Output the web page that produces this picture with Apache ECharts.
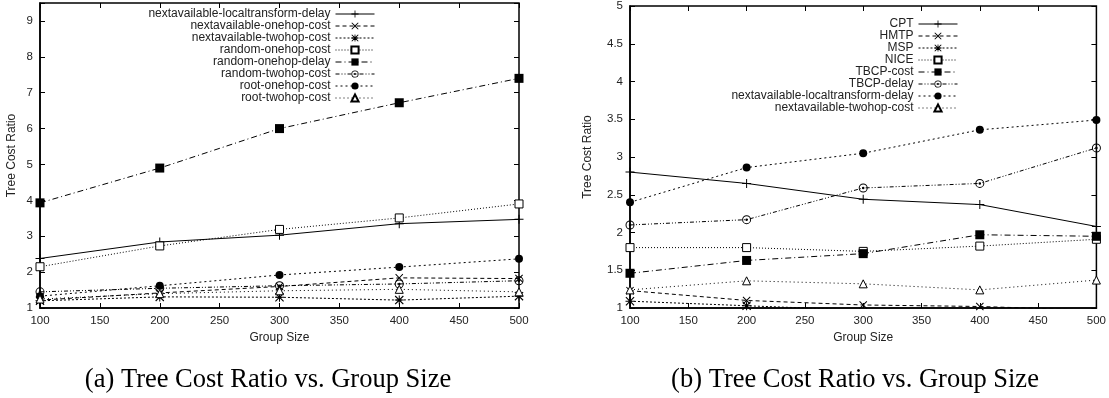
<!DOCTYPE html>
<html><head><meta charset="utf-8">
<script src="https://cdn.jsdelivr.net/npm/echarts@6/dist/echarts.min.js"></script>
<style>html,body{margin:0;padding:0;background:#fff}#c{width:1109px;height:398px}</style>
</head><body><div id="c"></div>
<script>
// ---------- data ----------
const groupSizes = [100, 200, 300, 400, 500];

const namesA = ['nextavailable-localtransform-delay','nextavailable-onehop-cost','nextavailable-twohop-cost','random-onehop-cost','random-onehop-delay','random-twohop-cost','root-onehop-cost','root-twohop-cost'];
const a_nextLocalDelay = [2.38, 2.84, 3.03, 3.35, 3.47];
const a_nextOnehopCost = [1.22, 1.42, 1.60, 1.84, 1.82];
const a_nextTwohopCost = [1.20, 1.31, 1.30, 1.22, 1.33];
const a_randOnehopCost = [2.15, 2.73, 3.19, 3.51, 3.90];
const a_randOnehopDelay = [3.93, 4.90, 6.00, 6.72, 7.40];
const a_randTwohopCost = [1.45, 1.55, 1.62, 1.67, 1.76];
const a_rootOnehopCost = [1.33, 1.62, 1.92, 2.14, 2.37];
const a_rootTwohopCost = [1.25, 1.40, 1.48, 1.52, 1.45];
const valuesA = [a_nextLocalDelay, a_nextOnehopCost, a_nextTwohopCost, a_randOnehopCost, a_randOnehopDelay, a_randTwohopCost, a_rootOnehopCost, a_rootTwohopCost];

const namesB = ['CPT','HMTP','MSP','NICE','TBCP-cost','TBCP-delay','nextavailable-localtransform-delay','nextavailable-twohop-cost'];
const b_cpt = [2.80, 2.65, 2.44, 2.37, 2.08];
const b_hmtp = [1.23, 1.10, 1.04, 1.02, 0.97];
const b_msp = [1.09, 1.03, 0.97, 0.95, 0.93];
const b_nice = [1.80, 1.80, 1.75, 1.82, 1.91];
const b_tbcpCost = [1.46, 1.63, 1.72, 1.97, 1.95];
const b_tbcpDelay = [2.10, 2.17, 2.59, 2.65, 3.12];
const b_nextLocalDelay = [2.40, 2.86, 3.05, 3.36, 3.49];
const b_nextTwohopCost = [1.24, 1.36, 1.32, 1.24, 1.37];
const valuesB = [b_cpt, b_hmtp, b_msp, b_nice, b_tbcpCost, b_tbcpDelay, b_nextLocalDelay, b_nextTwohopCost];

const captionA = '(a) Tree Cost Ratio vs. Group Size';
const captionB = '(b) Tree Cost Ratio vs. Group Size';

// ---------- styles (gnuplot monochrome line types) ----------
const PLUS = 'path://M4,0 L5,0 L5,4 L9,4 L9,5 L5,5 L5,9 L4,9 L4,5 L0,5 L0,4 L4,4 Z';
const CROSS = 'path://M0,0.8 L0.8,0 L4.5,3.7 L8.2,0 L9,0.8 L5.3,4.5 L9,8.2 L8.2,9 L4.5,5.3 L0.8,9 L0,8.2 L3.7,4.5 Z';
const STAR = 'path://M0,0.8 L0.8,0 L4.5,3.7 L8.2,0 L9,0.8 L5.3,4.5 L9,8.2 L8.2,9 L4.5,5.3 L0.8,9 L0,8.2 L3.7,4.5 Z M4,0 L5,0 L5,9 L4,9 Z M0,4 L9,4 L9,5 L0,5 Z';
const RINGDOT = 'path://M5,0 A5,5 0 1,1 4.99,0 Z M5,1.1 A3.9,3.9 0 1,0 5.01,1.1 Z M5,3.6 A1.4,1.4 0 1,1 4.99,3.6 Z';
const styles = [
  {symbol: PLUS, size: 9, fill: '#000', border: 0, dash: 'solid'},
  {symbol: CROSS, size: 8, fill: '#000', border: 0, dash: [4, 3]},
  {symbol: STAR, size: 9, fill: '#000', border: 0, dash: [2, 2]},
  {symbol: 'rect', size: 8, fill: '#fff', border: 1, dash: [1, 2]},
  {symbol: 'rect', size: 9, fill: '#000', border: 0, dash: [6, 3, 1, 3]},
  {symbol: RINGDOT, size: 9, fill: '#000', border: 0, dash: [4, 2, 1, 2, 1, 2]},
  {symbol: 'circle', size: 8, fill: '#000', border: 0, dash: [2, 3]},
  {symbol: 'triangle', size: 8, fill: '#fff', border: 1, dash: [1, 3]}
];

function mkSeries(names, values, gi, prefix) {
  return names.map((n, i) => {
    const s = styles[i];
    return {
      name: prefix + n, type: 'line', xAxisIndex: gi * 2, yAxisIndex: gi * 2,
      data: groupSizes.map((g, k) => [g, values[i][k]]),
      symbol: s.symbol, symbolSize: s.size, showAllSymbol: true,
      itemStyle: {color: s.fill, borderColor: '#000', borderWidth: s.border},
      lineStyle: {color: '#000', width: 1, type: s.dash},
      emphasis: {disabled: true}, animation: false, clip: true
    };
  });
}

const txt = '#222';
const font = 'Liberation Sans, Arial, sans-serif';
function xAxes(gi) {
  return [
    {type: 'value', gridIndex: gi, min: 100, max: 500, interval: 50, position: 'bottom',
     name: 'Group Size', nameLocation: 'middle', nameGap: 24,
     nameTextStyle: {fontSize: 12, color: txt, fontFamily: font},
     axisLine: {show: true, lineStyle: {color: '#000', width: 1.5}},
     axisTick: {show: true, inside: true, length: 5, lineStyle: {color: '#000'}},
     axisLabel: {show: true, margin: 7, fontSize: 11.5, color: txt, fontFamily: font},
     splitLine: {show: false}},
    {type: 'value', gridIndex: gi, min: 100, max: 500, interval: 50, position: 'top',
     axisLine: {show: false},
     axisTick: {show: true, inside: true, length: 5, lineStyle: {color: '#000'}},
     axisLabel: {show: false}, splitLine: {show: false}}
  ];
}
function yAxes(gi, max, interval, gap, fmt) {
  return [
    {type: 'value', gridIndex: gi, min: 1, max: max, interval: interval, position: 'left',
     name: 'Tree Cost Ratio', nameLocation: 'middle', nameGap: gap,
     nameTextStyle: {fontSize: 12, color: txt, fontFamily: font},
     axisLine: {show: true, lineStyle: {color: '#000', width: 1.5}},
     axisTick: {show: true, inside: true, length: 5, lineStyle: {color: '#000'}},
     axisLabel: {show: true, margin: 7, fontSize: 11.5, color: txt, fontFamily: font, formatter: fmt},
     splitLine: {show: false}},
    {type: 'value', gridIndex: gi, min: 1, max: max, interval: interval, position: 'right',
     axisLine: {show: false},
     axisTick: {show: true, inside: true, length: 5, lineStyle: {color: '#000'}},
     axisLabel: {show: false}, splitLine: {show: false}}
  ];
}

const legendCommon = {
  orient: 'vertical', align: 'right', padding: 0, itemGap: 0,
  itemWidth: 39, itemHeight: 9,
  lineStyle: {width: 1},
  textStyle: {fontSize: 12, lineHeight: 12, color: txt, fontFamily: font},
  selectedMode: false
};

const option = {
  backgroundColor: '#fff',
  animation: false,
  title: [
    {text: captionA, left: 263, top: 362, textAlign: 'center',
     textStyle: {fontFamily: 'Liberation Serif, Times New Roman, serif', fontSize: 26.5, fontWeight: 'normal', color: '#000'}},
    {text: captionB, left: 850, top: 362, textAlign: 'center',
     textStyle: {fontFamily: 'Liberation Serif, Times New Roman, serif', fontSize: 26.5, fontWeight: 'normal', color: '#000'}}
  ],
  grid: [
    {left: 40, top: 3, width: 479, height: 305, show: true, borderColor: '#000', borderWidth: 1.5, backgroundColor: 'transparent'},
    {left: 630, top: 3, width: 467, height: 305, show: true, borderColor: '#000', borderWidth: 1.5, backgroundColor: 'transparent'}
  ],
  xAxis: [...xAxes(0), ...xAxes(1)],
  yAxis: [
    ...yAxes(0, 9.5, 1, 22, v => (Math.abs(v - Math.round(v)) < 1e-9 ? String(v) : '')),
    ...yAxes(1, 5, 0.5, 36, v => String(v))
  ],
  legend: [
    Object.assign({}, legendCommon, {right: 734, top: 8, data: namesA.map(n => 'a:' + n),
      formatter: n => n.slice(2)}),
    Object.assign({}, legendCommon, {right: 151, top: 18, data: namesB.map(n => 'b:' + n),
      formatter: n => n.slice(2)})
  ],
  series: [...mkSeries(namesA, valuesA, 0, 'a:'), ...mkSeries(namesB, valuesB, 1, 'b:')]
};

const chart = echarts.init(document.getElementById('c'), null, {renderer: 'canvas'});
chart.setOption(option);
</script></body></html>
